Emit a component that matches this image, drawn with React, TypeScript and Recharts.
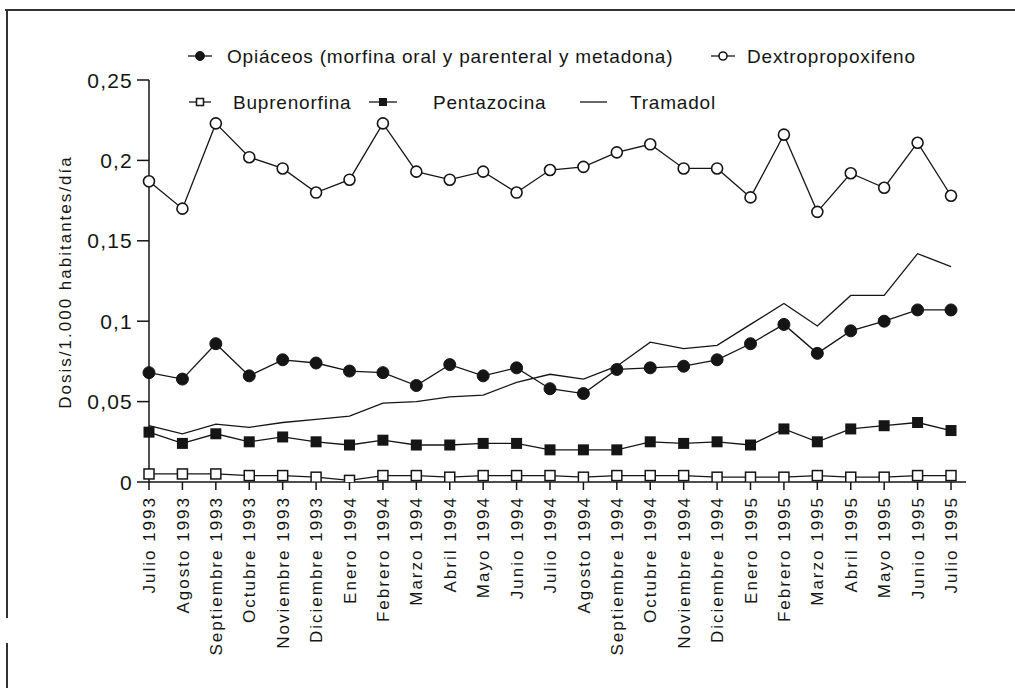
import { LineChart, Line, XAxis, YAxis } from 'recharts'

const months = [
  'Julio 1993', 'Agosto 1993', 'Septiembre 1993', 'Octubre 1993', 'Noviembre 1993', 'Diciembre 1993',
  'Enero 1994', 'Febrero 1994', 'Marzo 1994', 'Abril 1994', 'Mayo 1994', 'Junio 1994',
  'Julio 1994', 'Agosto 1994', 'Septiembre 1994', 'Octubre 1994', 'Noviembre 1994', 'Diciembre 1994',
  'Enero 1995', 'Febrero 1995', 'Marzo 1995', 'Abril 1995', 'Mayo 1995', 'Junio 1995', 'Julio 1995'
]

const opiaceos = [0.068, 0.064, 0.086, 0.066, 0.076, 0.074, 0.069, 0.068, 0.060, 0.073, 0.066, 0.071, 0.058, 0.055, 0.070, 0.071, 0.072, 0.076, 0.086, 0.098, 0.080, 0.094, 0.100, 0.107, 0.107]
const dextropropoxifeno = [0.187, 0.170, 0.223, 0.202, 0.195, 0.180, 0.188, 0.223, 0.193, 0.188, 0.193, 0.180, 0.194, 0.196, 0.205, 0.210, 0.195, 0.195, 0.177, 0.216, 0.168, 0.192, 0.183, 0.211, 0.178]
const buprenorfina = [0.005, 0.005, 0.005, 0.004, 0.004, 0.003, 0.001, 0.004, 0.004, 0.003, 0.004, 0.004, 0.004, 0.003, 0.004, 0.004, 0.004, 0.003, 0.003, 0.003, 0.004, 0.003, 0.003, 0.004, 0.004]
const pentazocina = [0.031, 0.024, 0.030, 0.025, 0.028, 0.025, 0.023, 0.026, 0.023, 0.023, 0.024, 0.024, 0.020, 0.020, 0.020, 0.025, 0.024, 0.025, 0.023, 0.033, 0.025, 0.033, 0.035, 0.037, 0.032]
const tramadol = [0.035, 0.030, 0.036, 0.034, 0.037, 0.039, 0.041, 0.049, 0.050, 0.053, 0.054, 0.062, 0.067, 0.064, 0.072, 0.087, 0.083, 0.085, 0.098, 0.111, 0.097, 0.116, 0.116, 0.142, 0.134]

const yTicks = [0, 0.05, 0.1, 0.15, 0.2, 0.25]

const data = months.map((m, i) => ({
  mes: m,
  opi: opiaceos[i],
  dex: dextropropoxifeno[i],
  bup: buprenorfina[i],
  pen: pentazocina[i],
  tra: tramadol[i]
}))

const INK = '#151515'
const FONT = '"Liberation Sans", Arial, sans-serif'

// marker shapes used both in the plot and the legend
const Marker = ({ cx, cy, kind, size = 6 }) => {
  if (cx == null || cy == null) return null
  if (kind === 'fcircle') return <circle cx={cx} cy={cy} r={size} fill={INK} stroke={INK} />
  if (kind === 'ocircle') return <circle cx={cx} cy={cy} r={size - 0.5} fill="#fff" stroke={INK} strokeWidth={1.6} />
  if (kind === 'fsquare') return <rect x={cx - size + 0.5} y={cy - size + 0.5} width={size * 2 - 1} height={size * 2 - 1} fill={INK} />
  if (kind === 'osquare') return <rect x={cx - size + 1} y={cy - size + 1} width={size * 2 - 2} height={size * 2 - 2} fill="#fff" stroke={INK} strokeWidth={1.5} />
  return null
}

const series = [
  { key: 'tra', name: 'Tramadol', kind: 'none' },
  { key: 'bup', name: 'Buprenorfina', kind: 'osquare' },
  { key: 'pen', name: 'Pentazocina', kind: 'fsquare' },
  { key: 'opi', name: 'Opiáceos (morfina oral y parenteral y metadona)', kind: 'fcircle' },
  { key: 'dex', name: 'Dextropropoxifeno', kind: 'ocircle' }
]

// legend placement: [line x1, line x2, text x, row y]
const legendPos = {
  opi: [188, 212, 227, 56],
  dex: [711, 735, 747, 56],
  bup: [189, 211, 233, 102],
  pen: [369, 397, 433, 102],
  tra: [580, 607, 630, 102]
}

const XTick = ({ x, y, payload }) => (
  <g transform={`translate(${x},${y})`}>
    <text x={0} y={0} dy="0.36em" textAnchor="end" transform="rotate(-90)"
      fontSize={17} letterSpacing={2} fill={INK} fontFamily={FONT}>
      {payload.value}
    </text>
  </g>
)

const YTick = ({ x, y, payload }) => (
  <text x={x} y={y} dy="0.36em" textAnchor="end" fontSize={21} letterSpacing={1.2} fill={INK} fontFamily={FONT}>
    {String(payload.value).replace('.', ',')}
  </text>
)

export default function App() {
  return (
    <div style={{ position: 'absolute', left: 0, top: 0, width: 1015, height: 688, background: '#fff', fontFamily: FONT, overflow: 'hidden' }}>
      <div style={{ position: 'absolute', left: 5, top: 9, width: 1010, height: 2, background: '#333' }} />
      <div style={{ position: 'absolute', left: 6, top: 9, width: 2, height: 609, background: '#333' }} />
      <div style={{ position: 'absolute', left: 6, top: 643, width: 2, height: 45, background: '#333' }} />

      <LineChart width={1015} height={688} data={data} margin={{ top: 80, right: 49, bottom: 0, left: 0 }}>
        <XAxis dataKey="mes" interval={0} height={206} tickSize={8} tickMargin={6}
          padding={{ left: 0, right: 15 }} axisLine={{ stroke: INK, strokeWidth: 1.5 }}
          tickLine={{ stroke: INK, strokeWidth: 1.5 }} tick={<XTick />} />
        <YAxis width={149} domain={[0, 0.25]} ticks={yTicks} tickSize={12} tickMargin={4}
          axisLine={{ stroke: INK, strokeWidth: 1.5 }} tickLine={{ stroke: INK, strokeWidth: 1.5 }}
          tick={<YTick />} allowDataOverflow />
        {series.map(s => (
          <Line key={s.key} dataKey={s.key} name={s.name} type="linear" stroke={INK} strokeWidth={1.3}
            isAnimationActive={false}
            dot={s.kind === 'none' ? false : (p) => <Marker key={`${s.key}-${p.index}`} cx={p.cx} cy={p.cy} kind={s.kind} />}
            activeDot={false} />
        ))}
      </LineChart>

      <svg width={1015} height={130} style={{ position: 'absolute', left: 0, top: 0 }}>
        {series.map(s => {
          const [x1, x2, tx, y] = legendPos[s.key]
          return (
            <g key={s.key}>
              <line x1={x1} x2={x2} y1={y} y2={y} stroke={INK} strokeWidth={1.3} />
              <Marker cx={(x1 + x2) / 2} cy={y} kind={s.kind} size={4.5} />
              <text x={tx} y={y} dy="0.36em" fontSize={19} letterSpacing={0.8} fill={INK} fontFamily={FONT}>{s.name}</text>
            </g>
          )
        })}
      </svg>

      <div style={{
        position: 'absolute', left: 66, top: 282, transform: 'translate(-50%, -50%) rotate(-90deg)',
        whiteSpace: 'nowrap', fontSize: 17, letterSpacing: 2, color: INK
      }}>
        Dosis/1.000 habitantes/día
      </div>
    </div>
  )
}
